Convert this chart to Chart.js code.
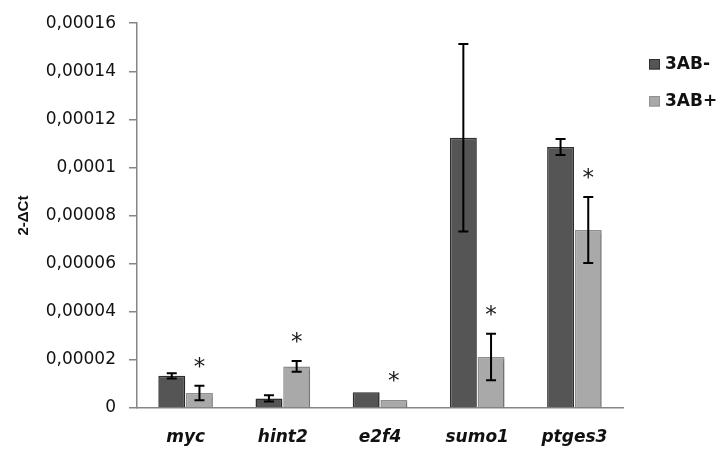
<!DOCTYPE html>
<html>
<head>
<meta charset="utf-8">
<script src="https://cdn.jsdelivr.net/npm/chart.js@4/dist/chart.umd.min.js"></script>
<style>
  html, body { margin: 0; padding: 0; background: #ffffff; }
  #wrap { width: 719px; height: 449px; position: relative; }
</style>
</head>
<body>
<div id="wrap"><canvas id="chart"></canvas></div>
<script>
// Genes on the x axis
const genes = ['myc', 'hint2', 'e2f4', 'sumo1', 'ptges3'];

// 2^-ΔCt means and error (±) per gene, without and with 3AB
const minusValues = [0.0000134, 0.0000040, 0.0000066, 0.0001124, 0.0001085];
const minusErrors = [0.0000011, 0.0000013, 0, 0.0000390, 0.0000033];
const plusValues  = [0.0000062, 0.0000173, 0.0000033, 0.0000212, 0.0000740];
const plusErrors  = [0.0000030, 0.0000022, 0, 0.0000097, 0.0000137];

// Significance markers drawn over the 3AB+ bars
const plusSignificant = [true, true, true, true, true];

// Y axis tick labels (decimal comma)
const yTickLabels = ['0', '0,00002', '0,00004', '0,00006', '0,00008',
                     '0,0001', '0,00012', '0,00014', '0,00016'];

const seriesNames = ['3AB-', '3AB+'];
const AXIS_GREY = '#868686';

// Soft drop shadow under the bars
const barShadow = {
  id: 'barShadow',
  beforeDatasetsDraw(chart) {
    const ctx = chart.ctx;
    ctx.save();
    ctx.shadowColor = 'rgba(0,0,0,0.28)';
    ctx.shadowBlur = 3;
    ctx.shadowOffsetX = 2;
    ctx.shadowOffsetY = 1;
  },
  afterDatasetsDraw(chart) {
    chart.ctx.restore();
  }
};

// Error bars with caps, plus asterisks for significant 3AB+ values
const errorBars = {
  id: 'errorBars',
  afterDatasetsDraw(chart) {
    const ctx = chart.ctx;
    const yScale = chart.scales.y;
    ctx.save();
    chart.data.datasets.forEach((ds, di) => {
      const meta = chart.getDatasetMeta(di);
      meta.data.forEach((bar, i) => {
        const v = ds.data[i];
        const e = ds.errors[i];
        const x = bar.x;
        let topY = yScale.getPixelForValue(v);
        if (e > 0) {
          topY = yScale.getPixelForValue(v + e);
          const botY = yScale.getPixelForValue(v - e);
          ctx.strokeStyle = '#000000';
          ctx.lineWidth = 2;
          ctx.beginPath();
          ctx.moveTo(x, topY); ctx.lineTo(x, botY);
          ctx.moveTo(x - 5, topY); ctx.lineTo(x + 5, topY);
          ctx.moveTo(x - 5, botY); ctx.lineTo(x + 5, botY);
          ctx.stroke();
        }
        if (ds.significant && ds.significant[i]) {
          ctx.fillStyle = '#1a1a1a';
          ctx.font = '23px "DejaVu Sans"';
          ctx.textAlign = 'center';
          ctx.textBaseline = 'middle';
          ctx.fillText('*', x, topY - 18);
        }
      });
    });
    ctx.restore();
  }
};

// Legend at the right, one row per series
const sideLegend = {
  id: 'sideLegend',
  afterDraw(chart) {
    const ctx = chart.ctx;
    const x0 = 649, rowsY = [64, 101];
    ctx.save();
    chart.data.datasets.forEach((ds, i) => {
      const cy = rowsY[i];
      ctx.fillStyle = ds.backgroundColor;
      ctx.strokeStyle = ds.borderColor;
      ctx.lineWidth = 1;
      ctx.fillRect(x0, cy - 5, 11, 10.5);
      ctx.strokeRect(x0 + 0.5, cy - 4.5, 10, 9.5);
      ctx.fillStyle = '#111111';
      ctx.font = 'bold 17px "DejaVu Sans"';
      ctx.textAlign = 'left';
      ctx.textBaseline = 'middle';
      ctx.fillText(ds.label, x0 + 16, cy + 1);
    });
    ctx.restore();
  }
};

new Chart(document.getElementById('chart'), {
  type: 'bar',
  data: {
    labels: genes,
    datasets: [
      {
        label: seriesNames[0],
        data: minusValues,
        errors: minusErrors,
        backgroundColor: '#555555',
        borderColor: '#303030',
        borderWidth: 1.5
      },
      {
        label: seriesNames[1],
        data: plusValues,
        errors: plusErrors,
        significant: plusSignificant,
        backgroundColor: '#a9a9a9',
        borderColor: '#909090',
        borderWidth: 1.5
      }
    ]
  },
  options: {
    responsive: true,
    maintainAspectRatio: false,
    animation: false,
    layout: { padding: { left: 0, right: 96, top: 22, bottom: 0 } },
    plugins: {
      legend: { display: false },
      tooltip: { enabled: false }
    },
    datasets: {
      bar: { categoryPercentage: 0.57, barPercentage: 0.97 }
    },
    scales: {
      x: {
        grid: { drawOnChartArea: false, drawTicks: false },
        border: { display: true, color: AXIS_GREY, width: 1.5 },
        ticks: {
          color: '#111111',
          padding: 19,
          font: { family: '"DejaVu Sans"', size: 17, style: 'italic', weight: 'bold' }
        },
        afterFit(scale) { scale.height = 41; }
      },
      y: {
        min: 0,
        max: 0.00016,
        grid: { drawOnChartArea: false, drawTicks: true, tickLength: 8, color: AXIS_GREY, lineWidth: 1.5 },
        border: { display: true, color: AXIS_GREY, width: 1.5 },
        ticks: {
          stepSize: 0.00002,
          padding: 13,
          color: '#111111',
          font: { family: '"DejaVu Sans"', size: 17 },
          callback: (value, index) => yTickLabels[index]
        },
        title: {
          display: true,
          text: '2-ΔCt',
          color: '#111111',
          padding: { top: 15, bottom: 0 },
          font: { family: '"Liberation Sans"', size: 15, weight: 'bold' }
        },
        afterFit(scale) { scale.width = 137; }
      }
    }
  },
  plugins: [barShadow, errorBars, sideLegend]
});
</script>
</body>
</html>
